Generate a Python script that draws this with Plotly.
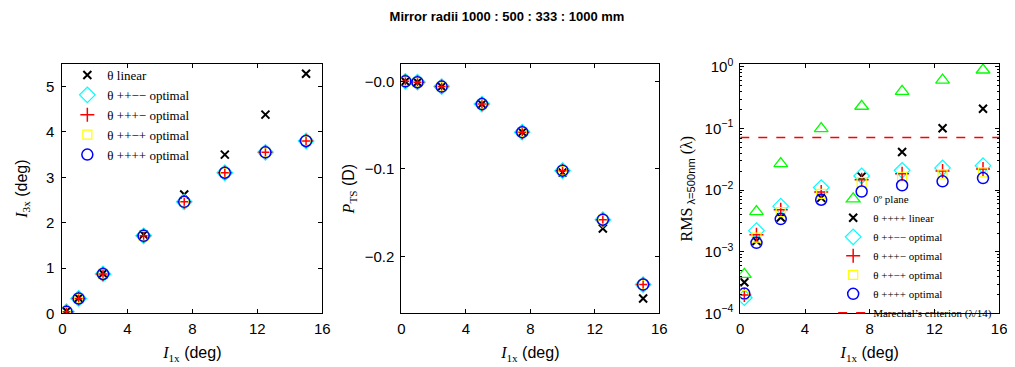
import plotly.graph_objects as go

# ---------------- data ----------------
x_deg = [0.25, 1, 2.5, 5, 7.5, 10, 12.5, 15]

# Panel 1: I3x (deg)
i3x_linear = [0.05, 0.34, 0.88, 1.74, 2.62, 3.50, 4.38, 5.28]
i3x_ppmm = [0.04, 0.33, 0.87, 1.71, 2.46, 3.10, 3.55, 3.80]
i3x_pppm = [0.04, 0.33, 0.87, 1.71, 2.46, 3.10, 3.55, 3.80]
i3x_ppmp = [0.04, 0.33, 0.87, 1.71, 2.46, 3.10, 3.55, 3.80]
i3x_pppp = [0.04, 0.33, 0.87, 1.71, 2.46, 3.10, 3.55, 3.80]

# Panel 2: P_TS (D)
pts_linear = [-0.000, -0.001, -0.006, -0.026, -0.058, -0.104, -0.168, -0.248]
pts_ppmm = [-0.000, -0.001, -0.006, -0.026, -0.058, -0.102, -0.158, -0.232]
pts_pppm = [-0.000, -0.001, -0.006, -0.026, -0.058, -0.102, -0.158, -0.232]
pts_ppmp = [-0.000, -0.001, -0.006, -0.026, -0.058, -0.102, -0.158, -0.232]
pts_pppp = [-0.000, -0.001, -0.006, -0.026, -0.058, -0.102, -0.158, -0.232]

# Panel 3: RMS (lambda = 500 nm)
rms_plane0 = [4.3e-4, 4.5e-3, 0.027, 0.10, 0.23, 0.40, 0.61, 0.89]
rms_linear = [3.2e-4, 1.5e-3, 3.6e-3, 7.5e-3, 0.0166, 0.0415, 0.101, 0.21]
rms_ppmm = [1.8e-4, 2.2e-3, 5.5e-3, 0.011, 0.017, 0.021, 0.023, 0.025]
rms_pppm = [2.0e-4, 1.9e-3, 4.8e-3, 0.0093, 0.0148, 0.0185, 0.0205, 0.022]
rms_ppmp = [2.0e-4, 1.7e-3, 4.4e-3, 0.0087, 0.0135, 0.0165, 0.018, 0.0195]
rms_pppp = [2.1e-4, 1.4e-3, 3.4e-3, 0.0070, 0.0095, 0.012, 0.0139, 0.0157]
marechal_x = [0, 16]
marechal_y = [1 / 14, 1 / 14]

x_ticks = [0, 4, 8, 12, 16]
y1_ticks = [0, 1, 2, 3, 4, 5]
y2_ticks = [0, -0.1, -0.2]
y2_labels = ["\u22120.0", "\u22120.1", "\u22120.2"]
y3_ticks = [1e-4, 1e-3, 1e-2, 1e-1, 1]
y3_labels = ["10<sup>\u22124</sup>", "10<sup>\u22123</sup>", "10<sup>\u22122</sup>",
             "10<sup>\u22121</sup>", "10<sup>0</sup>"]
y3_minor = [m * 10 ** e for e in range(-4, 0) for m in range(2, 10)]

SERIF = "Liberation Serif"
SANS = "Liberation Sans"

W, H = 1015, 367
OFF = 8  # page body margin offset
top_px, bot_px = 58 - OFF, 319 - OFF
doms = [(59 - OFF, 322 - OFF), (402 - OFF, 663 - OFF), (745 - OFF, 1007 - OFF)]


def dom_x(a, b):
    return [a / W, b / W]


ydom = [1 - bot_px / H, 1 - top_px / H]

styles = {
    "linear": dict(symbol="x-thin", color="black", size=8, lw=2),
    "ppmm": dict(symbol="diamond-open", color="#00FFFF", size=12, lw=1.2),
    "pppm": dict(symbol="cross-thin", color="red", size=10, lw=1.5),
    "ppmp": dict(symbol="square-open", color="#FFFF00", size=9, lw=1.2),
    "pppp": dict(symbol="circle-open", color="#0000FF", size=11, lw=1.5),
    "plane0": dict(symbol="triangle-up-open", color="#00FF00", size=12, lw=1.3),
}


def mk(x, y, key, name, xa, ya, legend=None, show=False):
    s = styles[key]
    return go.Scatter(
        x=x, y=y, mode="markers", name=name, xaxis=xa, yaxis=ya,
        showlegend=show, legend=legend,
        marker=dict(symbol=s["symbol"], size=s["size"],
                    color=s["color"], line=dict(color=s["color"], width=s["lw"])),
    )


fig = go.Figure()

# Panel 1
fig.add_trace(mk(x_deg, i3x_linear, "linear", "\u03b8 linear", "x", "y", "legend", True))
fig.add_trace(mk(x_deg, i3x_ppmm, "ppmm", "\u03b8 ++\u2212\u2212 optimal", "x", "y", "legend", True))
fig.add_trace(mk(x_deg, i3x_pppm, "pppm", "\u03b8 +++\u2212 optimal", "x", "y", "legend", True))
fig.add_trace(mk(x_deg, i3x_ppmp, "ppmp", "\u03b8 ++\u2212+ optimal", "x", "y", "legend", True))
fig.add_trace(mk(x_deg, i3x_pppp, "pppp", "\u03b8 ++++ optimal", "x", "y", "legend", True))

# Panel 2
fig.add_trace(mk(x_deg, pts_linear, "linear", "lin", "x2", "y2"))
fig.add_trace(mk(x_deg, pts_ppmm, "ppmm", "a", "x2", "y2"))
fig.add_trace(mk(x_deg, pts_pppm, "pppm", "b", "x2", "y2"))
fig.add_trace(mk(x_deg, pts_ppmp, "ppmp", "c", "x2", "y2"))
fig.add_trace(mk(x_deg, pts_pppp, "pppp", "d", "x2", "y2"))

# Panel 3
fig.add_trace(mk(x_deg, rms_plane0, "plane0", "0\u00ba plane", "x3", "y3", "legend2", True))
fig.add_trace(mk(x_deg, rms_linear, "linear", "\u03b8 ++++ linear", "x3", "y3", "legend2", True))
fig.add_trace(mk(x_deg, rms_ppmm, "ppmm", "\u03b8 ++\u2212\u2212 optimal", "x3", "y3", "legend2", True))
fig.add_trace(mk(x_deg, rms_pppm, "pppm", "\u03b8 +++\u2212 optimal", "x3", "y3", "legend2", True))
fig.add_trace(mk(x_deg, rms_ppmp, "ppmp", "\u03b8 ++\u2212+ optimal", "x3", "y3", "legend2", True))
fig.add_trace(mk(x_deg, rms_pppp, "pppp", "\u03b8 ++++ optimal", "x3", "y3", "legend2", True))
fig.add_trace(go.Scatter(x=marechal_x, y=marechal_y, mode="lines", xaxis="x3", yaxis="y3",
                         name="Marechal\u2019s criterion (\u03bb/14)", legend="legend2",
                         line=dict(color="red", width=1.5, dash="dash")))

axis_common = dict(showline=True, linecolor="black", linewidth=1, mirror="allticks",
                   ticks="inside", ticklen=4, tickcolor="black", showgrid=False,
                   zeroline=False, tickfont=dict(family=SANS, size=15, color="black"))

xtitle = ('<span style="font-family:%s"><i>I</i><sub>1x</sub></span> (deg)' % SERIF)

for i, (a, b) in enumerate(doms):
    key = "xaxis" if i == 0 else "xaxis%d" % (i + 1)
    yk = "y" if i == 0 else "y%d" % (i + 1)
    fig.layout[key] = dict(domain=dom_x(a, b), anchor=yk, range=[0, 16],
                           tickvals=x_ticks, ticklabelstandoff=2,
                           title=dict(text=xtitle, standoff=10,
                                      font=dict(family=SANS, size=16, color="black")),
                           **axis_common)

fig.layout.yaxis = dict(domain=ydom, anchor="x", range=[0, 5.5], tickvals=y1_ticks,
                        ticklabelstandoff=4,
                        title=dict(text='<span style="font-family:%s"><i>I</i><sub>3x</sub></span> (deg)' % SERIF,
                                   standoff=14, font=dict(family=SANS, size=16, color="black")),
                        **axis_common)
fig.layout.yaxis2 = dict(domain=ydom, anchor="x2", range=[-0.265, 0.02], tickvals=y2_ticks,
                         ticktext=y2_labels, ticklabelstandoff=3,
                         title=dict(text='<span style="font-family:%s"><i>P</i><sub>TS</sub></span> (D)' % SERIF,
                                    standoff=6, font=dict(family=SANS, size=16, color="black")),
                         **axis_common)
fig.layout.yaxis3 = dict(domain=ydom, anchor="x3", type="log", range=[-4, 0.05],
                         tickvals=y3_ticks, ticktext=y3_labels, ticklabelstandoff=3,
                         minor=dict(tickvals=y3_minor, ticks="inside", ticklen=2, tickcolor="black"),
                         title=dict(text='RMS<sub><span style="font-family:%s"> \u03bb=500nm</span></sub> (\u03bb)' % SANS,
                                    standoff=8, font=dict(family=SERIF, size=16, color="black")),
                         **axis_common)

fig.update_layout(
    width=W, height=H,
    margin=dict(l=0, r=0, t=0, b=0),
    paper_bgcolor="white", plot_bgcolor="white",
    title=dict(text="<b>Mirror radii 1000 : 500 : 333 : 1000 mm</b>", x=(507 - OFF) / W,
               xanchor="center", y=1 - (16 - OFF) / H, yanchor="middle",
               font=dict(family=SANS, size=13, color="black")),
    legend=dict(x=56 / W, y=1 - 46 / H, xanchor="left", yanchor="top",
                bgcolor="rgba(255,255,255,0)", borderwidth=0,
                font=dict(family=SERIF, size=13, color="black"), tracegroupgap=0),
    legend2=dict(x=831 / W, y=1 - 176 / H, xanchor="left", yanchor="top",
                 bgcolor="rgba(255,255,255,0)", borderwidth=0,
                 font=dict(family=SERIF, size=11, color="black"), tracegroupgap=0),
)

fig.write_html("out.html")
